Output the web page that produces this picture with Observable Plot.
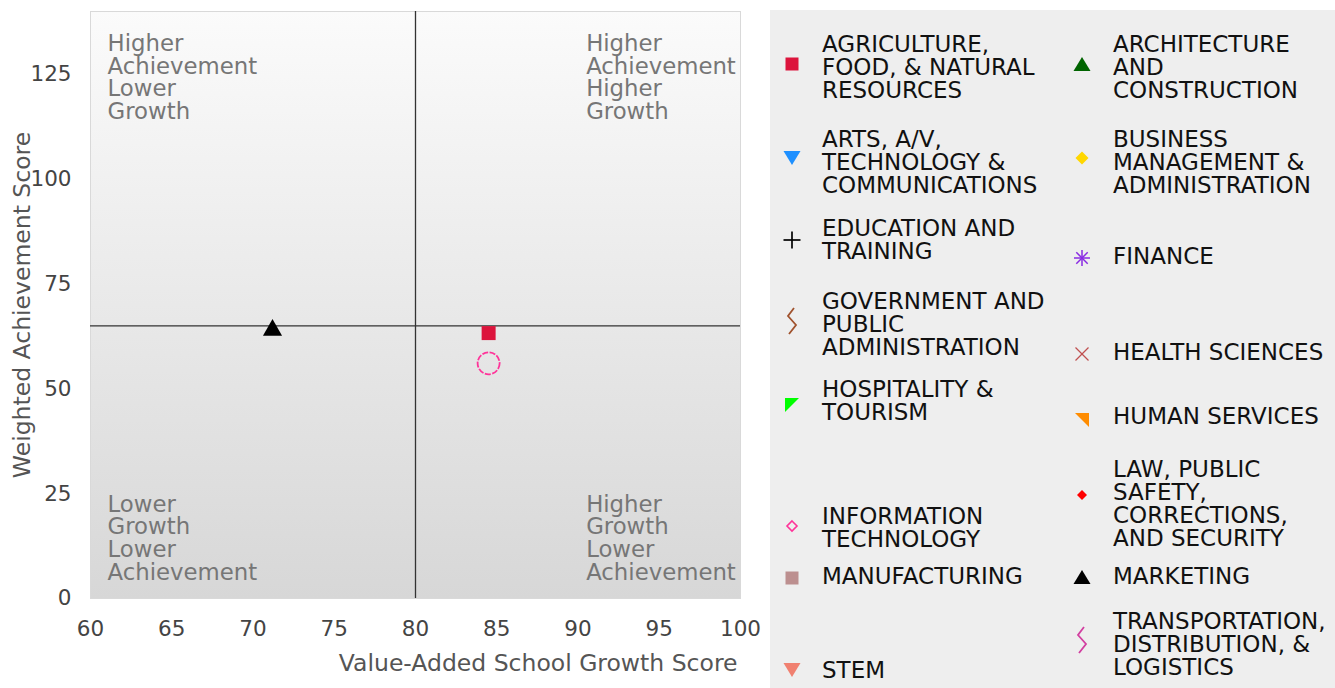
<!DOCTYPE html>
<html>
<head>
<meta charset="utf-8">
<script src="https://cdn.jsdelivr.net/npm/d3@7"></script>
<script src="https://cdn.jsdelivr.net/npm/@observablehq/plot@0.6"></script>
<style>
html, body { margin: 0; padding: 0; background: #fff; }
#wrap { position: relative; width: 1335px; height: 688px; overflow: hidden; font-family: "DejaVu Sans", sans-serif; }
#chart { position: absolute; left: 0; top: 0; }
#legend { position: absolute; left: 770px; top: 10px; width: 565px; height: 678px; background: #eeeeee; }
.item-text { position: absolute; white-space: pre; font-size: 23px; line-height: 23px; color: #111; font-family: "DejaVu Sans", sans-serif; }
.item-sym { position: absolute; overflow: visible; }
g[aria-label="y-axis label"] text { font-size: 23.5px; fill: #555; }
</style>
</head>
<body>
<div id="wrap"><div id="chart"></div><div id="legend"></div></div>
<script>
// ---- data ----
const categories = [
  "AGRICULTURE, FOOD, & NATURAL RESOURCES",
  "ARCHITECTURE AND CONSTRUCTION",
  "ARTS, A/V, TECHNOLOGY & COMMUNICATIONS",
  "BUSINESS MANAGEMENT & ADMINISTRATION",
  "EDUCATION AND TRAINING",
  "FINANCE",
  "GOVERNMENT AND PUBLIC ADMINISTRATION",
  "HEALTH SCIENCES",
  "HOSPITALITY & TOURISM",
  "HUMAN SERVICES",
  "INFORMATION TECHNOLOGY",
  "LAW, PUBLIC SAFETY, CORRECTIONS, AND SECURITY",
  "MANUFACTURING",
  "MARKETING",
  "STEM",
  "TRANSPORTATION, DISTRIBUTION, & LOGISTICS"
];
const legendLabels = [
  "AGRICULTURE,\nFOOD, & NATURAL\nRESOURCES",
  "ARCHITECTURE\nAND\nCONSTRUCTION",
  "ARTS, A/V,\nTECHNOLOGY &\nCOMMUNICATIONS",
  "BUSINESS\nMANAGEMENT &\nADMINISTRATION",
  "EDUCATION AND\nTRAINING",
  "FINANCE",
  "GOVERNMENT AND\nPUBLIC\nADMINISTRATION",
  "HEALTH SCIENCES",
  "HOSPITALITY &\nTOURISM",
  "HUMAN SERVICES",
  "INFORMATION\nTECHNOLOGY",
  "LAW, PUBLIC\nSAFETY,\nCORRECTIONS,\nAND SECURITY",
  "MANUFACTURING",
  "MARKETING",
  "STEM",
  "TRANSPORTATION,\nDISTRIBUTION, &\nLOGISTICS"
];
const categoryColors = [
  "#dc143c", "#006400", "#1e90ff", "#ffd700",
  "#000000", "#8a2be2", "#a0522d", "#c05050",
  "#00ff00", "#ff8c00", "#ff3399", "#ff0000",
  "#bc8f8f", "#000000", "#f08070", "#d23fa0"
];
const legendShapes = [
  "square", "triangleUp", "triangleDown", "diamond",
  "plus", "asterisk", "zigzag", "times",
  "cornerTL", "cornerTR", "diamondOpen", "diamondSmall",
  "square", "triangleUp", "triangleDown", "zigzag"
];

const pointCategories = [
  "MARKETING",
  "AGRICULTURE, FOOD, & NATURAL RESOURCES",
  "INFORMATION TECHNOLOGY"
];
const growthScores = [71.2, 84.5, 84.5];
const achievementScores = [64.0, 63.3, 56.1];

const growthCutoff = [80];
const achievementCutoff = [65];
const xTicks = [60, 65, 70, 75, 80, 85, 90, 95, 100];
const yTicks = [0, 25, 50, 75, 100, 125];
const xLabel = "Value-Added School Growth Score";
const yLabel = "Weighted Achievement Score";

const quadrantLabels = [
  "Higher\nAchievement\nLower\nGrowth",
  "Higher\nAchievement\nHigher\nGrowth",
  "Lower\nGrowth\nLower\nAchievement",
  "Higher\nGrowth\nLower\nAchievement"
];
const quadrantGrowth = [61.05, 90.5, 61.05, 90.5];
const quadrantAchievement = [134.5, 134.5, 24.6, 24.6];

// ---- legend layout (page pixels) ----
const legendColSymX = [792, 1082];
const legendColTextX = [822, 1113];
const legendTextTop = [33, 33, 128, 128, 217, 245, 290, 341, 378, 405, 505, 458, 565, 565, 659, 610];
const legendSymY = [64, 64, 158, 158, 240, 258, 321, 354, 405, 420, 526, 495, 578, 577, 670, 640];

// ---- chart ----
const rows = pointCategories.map((c, i) => ({category: c, growth: growthScores[i], achievement: achievementScores[i]}));
const shapeOf = d => legendShapes[categories.indexOf(d.category)];
const quads = quadrantLabels.map((t, i) => ({text: t, growth: quadrantGrowth[i], achievement: quadrantAchievement[i]}));

const chart = Plot.plot({
  width: 760,
  height: 688,
  marginLeft: 90,
  marginRight: 20,
  marginTop: 11,
  marginBottom: 90,
  style: {fontFamily: "DejaVu Sans", background: "transparent", overflow: "visible"},
  x: {domain: [60, 100]},
  y: {domain: [0, 140]},
  color: {type: "ordinal", domain: categories, range: categoryColors},
  marks: [
    Plot.frame({fill: "url(#bgGrad)", stroke: "#d9d9d9"}),
    Plot.ruleX(growthCutoff, {stroke: "#333", strokeWidth: 1.3}),
    Plot.ruleY(achievementCutoff, {stroke: "#333", strokeWidth: 1.3}),
    Plot.text(quads, {x: "growth", y: "achievement", text: "text", textAnchor: "start", lineAnchor: "top",
      fontSize: 22.8, lineHeight: 1.0, fill: "#767676"}),
    Plot.dot(rows, {filter: d => shapeOf(d) === "triangleUp", x: "growth", y: "achievement", fill: "category", symbol: "triangle", r: 7.1}),
    Plot.dot(rows, {filter: d => shapeOf(d) === "square", x: "growth", y: "achievement", fill: "category", symbol: "square", r: 7.9}),
    Plot.dot(rows, {filter: d => shapeOf(d) === "diamondOpen", x: "growth", y: "achievement", stroke: "category", fill: "none",
      r: 11, strokeWidth: 1.8, strokeDasharray: "6 1.5"}),
    Plot.axisX(xTicks, {tickSize: 0, tickPadding: 22, fontSize: 21.5, color: "#444", label: null}),
    Plot.text([xLabel], {frameAnchor: "bottom-right", text: d => d, textAnchor: "end", lineAnchor: "bottom",
      dx: -3, dy: 72, fontSize: 23.5, fill: "#555"}),
    Plot.axisY(yTicks, {tickSize: 0, tickPadding: 19, fontSize: 21.5, color: "#444",
      label: yLabel, labelAnchor: "center", labelOffset: 77, labelArrow: "none"})
  ]
});

const defs = d3.select(chart).insert("defs", ":first-child");
const grad = defs.append("linearGradient").attr("id", "bgGrad").attr("x1", 0).attr("y1", 0).attr("x2", 0).attr("y2", 1);
grad.append("stop").attr("offset", 0).attr("stop-color", "#fbfbfb");
grad.append("stop").attr("offset", 1).attr("stop-color", "#d7d7d7");
document.getElementById("chart").appendChild(chart);

// ---- legend ----
function drawShape(g, shape, color) {
  const poly = pts => g.append("polygon").attr("points", pts.map(p => p.join(",")).join(" ")).attr("fill", color);
  const line = (x1, y1, x2, y2, w) => g.append("line").attr("x1", x1).attr("y1", y1).attr("x2", x2).attr("y2", y2)
    .attr("stroke", color).attr("stroke-width", w);
  switch (shape) {
    case "square": g.append("rect").attr("x", -6.5).attr("y", -6.5).attr("width", 13).attr("height", 13).attr("fill", color); break;
    case "triangleUp": poly([[0, -7], [8.5, 7], [-8.5, 7]]); break;
    case "triangleDown": poly([[-8.5, -7], [8.5, -7], [0, 7]]); break;
    case "diamond": poly([[0, -6.5], [6.5, 0], [0, 6.5], [-6.5, 0]]); break;
    case "plus": line(0, -8.5, 0, 8.5, 1.7); line(-8.5, 0, 8.5, 0, 1.7); break;
    case "asterisk":
      line(0, -8, 0, 8, 1.5); line(-8, 0, 8, 0, 1.5); line(-5.7, -5.7, 5.7, 5.7, 1.5); line(-5.7, 5.7, 5.7, -5.7, 1.5); break;
    case "times": line(-6.5, -6.5, 6.5, 6.5, 1.3); line(-6.5, 6.5, 6.5, -6.5, 1.3); break;
    case "zigzag":
      g.append("polyline").attr("points", "2,-13 -4,-5 4,4 -3,13").attr("fill", "none").attr("stroke", color).attr("stroke-width", 1.8); break;
    case "cornerTL": poly([[-7, -7], [7, -7], [-7, 7]]); break;
    case "cornerTR": poly([[-7, -7], [7, -7], [7, 7]]); break;
    case "diamondOpen":
      g.append("polygon").attr("points", "0,-5 5,0 0,5 -5,0").attr("fill", "none").attr("stroke", color).attr("stroke-width", 1.6); break;
    case "diamondSmall": poly([[0, -5], [5, 0], [0, 5], [-5, 0]]); break;
  }
}

const legend = d3.select("#legend");
categories.forEach((c, i) => {
  const col = i % 2;
  const sx = legendColSymX[col] - 770, sy = legendSymY[i] - 10;
  const tx = legendColTextX[col] - 770, ty = legendTextTop[i] - 10;
  legend.append("div").attr("class", "item-text").style("left", tx + "px").style("top", ty + "px").text(legendLabels[i]);
  const svg = legend.append("svg").attr("class", "item-sym").attr("width", 40).attr("height", 40)
    .style("left", (sx - 20) + "px").style("top", (sy - 20) + "px");
  drawShape(svg.append("g").attr("transform", "translate(20,20)"), legendShapes[i], categoryColors[i]);
});
</script>
</body>
</html>
